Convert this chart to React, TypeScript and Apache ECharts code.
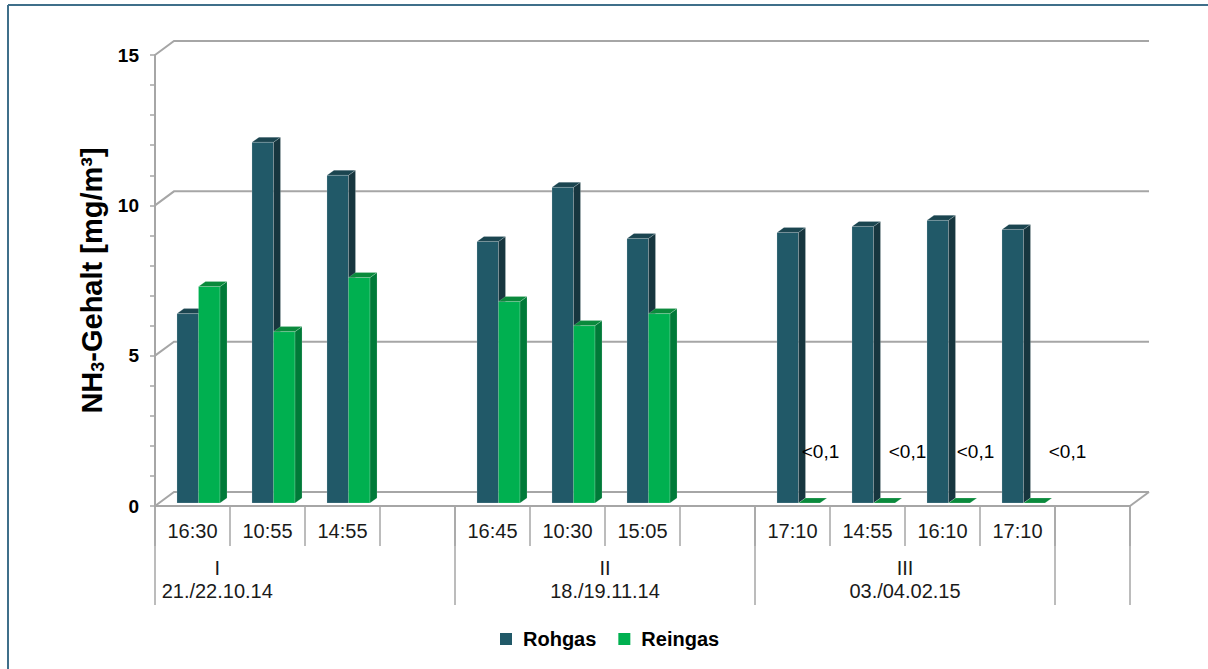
import React, { useEffect, useRef } from 'react';
import * as echarts from 'echarts';

// ---------- data ----------
const categories = ['16:30', '10:55', '14:55', '', '16:45', '10:30', '15:05', '', '17:10', '14:55', '16:10', '17:10', ''];
const rohgas = [6.3, 12.0, 10.9, null, 8.7, 10.5, 8.8, null, 9.0, 9.2, 9.4, 9.1, null];
const reingas = [7.2, 5.7, 7.5, null, 6.7, 5.9, 6.3, null, 0, 0, 0, 0, null];
const reingasLabels = ['', '', '', '', '', '', '', '', '<0,1', '<0,1', '<0,1', '<0,1', ''];
const groupNames = ['I', 'II', 'III'];
const groupDates = ['21./22.10.14', '18./19.11.14', '03./04.02.15'];
const groupBounds = [0, 4, 8, 12, 13];
const gridLevels = [0, 5, 10, 15];
const yMax = 15;

// ---------- layout / style ----------
const FONT = '"Liberation Sans", Arial, sans-serif';
const GRID_COLOR = '#a6a6a6';
const DEPTH = [19, -14];
const BAR_DEPTH = [7, -5];
const BAR_LIFT = 3;
const BAR_W = 0.287;
const GROUP_LABEL_SLOT = [0.83, 6, 10];
const LT_LABEL_DX: Record<number, number> = { 8: 28, 9: 40, 10: 33, 11: 50 };
const LT_LABEL_VALUE = 1.8;

const COLORS = {
  Rohgas: { front: '#215968', side: '#17363f', top: '#1b4550' },
  Reingas: { front: '#00b050', side: '#007a38', top: '#0a8a3c' },
};

function makeBarRender(offsetFrac: number, c: { front: string; side: string; top: string }, labels?: string[]) {
  return (params: any, api: any) => {
    const v = api.value(1);
    const i = api.value(0);
    if (v == null || isNaN(v)) return null;
    const bw = api.size([1, 0])[0];
    const c0 = api.coord([i, 0]);
    const c1 = api.coord([i, v]);
    const xL = c0[0] + offsetFrac * bw;
    const xR = xL + BAR_W * bw;
    const yB = c0[1] - BAR_LIFT;
    const yT = c1[1] - BAR_LIFT;
    const [dx, dy] = BAR_DEPTH;
    const children: any[] = [];
    if (yB - yT > 0.5) {
      children.push({
        type: 'rect',
        shape: { x: xL, y: yT, width: xR - xL, height: yB - yT },
        style: { fill: c.front, stroke: 'rgba(255,255,255,0.35)', lineWidth: 0.5 },
      });
      children.push({
        type: 'polygon',
        shape: { points: [[xR, yT], [xR + dx, yT + dy], [xR + dx, yB + dy], [xR, yB]] },
        style: { fill: c.side, stroke: 'rgba(255,255,255,0.35)', lineWidth: 0.5 },
      });
    }
    children.push({
      type: 'polygon',
      shape: { points: [[xL, yT], [xL + dx, yT + dy], [xR + dx, yT + dy], [xR, yT]] },
      style: { fill: c.top, stroke: 'rgba(255,255,255,0.35)', lineWidth: 0.5 },
    });
    if (labels && labels[i]) {
      const lp = api.coord([i, LT_LABEL_VALUE]);
      children.push({
        type: 'text',
        x: c0[0] + (LT_LABEL_DX[i] || 0),
        y: lp[1],
        style: {
          text: labels[i],
          fill: '#000',
          fontSize: 19,
          fontFamily: FONT,
          align: 'center',
          verticalAlign: 'middle',
        },
      });
    }
    return { type: 'group', children };
  };
}

function frameRender(params: any, api: any) {
  const cs = params.coordSys;
  const bw = api.size([1, 0])[0];
  const x0 = cs.x;
  const x1 = cs.x + cs.width;
  const [DX, DY] = DEPTH;
  const children: any[] = [];
  gridLevels.forEach((lv) => {
    const y = api.coord([0, lv])[1];
    children.push({
      type: 'polyline',
      shape: { points: [[x0, y], [x0 + DX, y + DY], [x1 + DX, y + DY]] },
      style: { stroke: GRID_COLOR, lineWidth: 2, fill: null },
    });
  });
  const yf = api.coord([0, 0])[1];
  children.push({
    type: 'line',
    shape: { x1: x1, y1: yf, x2: x1 + DX, y2: yf + DY },
    style: { stroke: GRID_COLOR, lineWidth: 2 },
  });
  groupBounds.forEach((k) => {
    const x = x0 + k * bw;
    children.push({
      type: 'line',
      shape: { x1: x, y1: yf, x2: x, y2: yf + 99 },
      style: { stroke: GRID_COLOR, lineWidth: 1.5 },
    });
  });
  groupNames.forEach((g, gi) => {
    children.push({
      type: 'text',
      x: x0 + GROUP_LABEL_SLOT[gi] * bw,
      y: yf + 73,
      style: {
        text: g + '\n' + groupDates[gi],
        fill: '#1a1a1a',
        fontSize: 20,
        lineHeight: 23,
        fontFamily: FONT,
        align: 'center',
        verticalAlign: 'middle',
      },
    });
  });
  return { type: 'group', children };
}

export default function App() {
  const ref = useRef<HTMLDivElement>(null);
  useEffect(() => {
    const chart = echarts.init(ref.current!, null, { renderer: 'svg' });
    const option: any = {
      animation: false,
      backgroundColor: '#ffffff',
      textStyle: { fontFamily: FONT },
      grid: { left: 155, top: 55, width: 975, height: 451 },
      xAxis: {
        type: 'category',
        data: categories,
        boundaryGap: true,
        axisLine: { show: true, lineStyle: { color: GRID_COLOR, width: 2 } },
        axisTick: { show: true, length: 40, interval: 0, lineStyle: { color: GRID_COLOR, width: 1.5 } },
        axisLabel: { interval: 0, margin: 15, fontSize: 20, color: '#1a1a1a', fontFamily: FONT },
        splitLine: { show: false },
      },
      yAxis: {
        type: 'value',
        min: 0,
        max: yMax,
        interval: 1,
        name: '{b|NH}{s|3}{b|-Gehalt [mg/m³]}',
        nameLocation: 'middle',
        nameRotate: 90,
        nameGap: 44,
        nameTextStyle: {
          rich: {
            b: { fontSize: 29, fontWeight: 'bold', color: '#000', fontFamily: FONT, verticalAlign: 'bottom', lineHeight: 32 },
            s: { fontSize: 18, fontWeight: 'bold', color: '#000', fontFamily: FONT, verticalAlign: 'bottom', lineHeight: 10 },
          },
        },
        axisLine: { show: true, lineStyle: { color: GRID_COLOR, width: 2 } },
        axisTick: { show: true, length: 5, lineStyle: { color: GRID_COLOR, width: 1.5 } },
        axisLabel: {
          margin: 16,
          fontSize: 19,
          fontWeight: 'bold',
          color: '#000',
          fontFamily: FONT,
          formatter: (v: number) => (v % 5 === 0 ? String(v) : ''),
        },
        splitLine: { show: false },
      },
      legend: {
        data: ['Rohgas', 'Reingas'],
        left: 495,
        top: 624,
        icon: 'rect',
        itemWidth: 12,
        itemHeight: 12,
        itemGap: 22,
        textStyle: { fontSize: 20, fontWeight: 'bold', color: '#000', fontFamily: FONT, padding: [0, 0, 0, 6] },
      },
      graphic: [
        { type: 'line', shape: { x1: 8, y1: 5, x2: 1208, y2: 5 }, style: { stroke: '#3f6f8a', lineWidth: 2 } },
        { type: 'line', shape: { x1: 8, y1: 5, x2: 8, y2: 669 }, style: { stroke: '#3f6f8a', lineWidth: 2 } },
      ],
      series: [
        {
          name: 'frame',
          type: 'custom',
          renderItem: frameRender,
          data: [[0, 0]],
          encode: { x: 0, y: 1 },
          silent: true,
          z: 1,
        },
        {
          name: 'Rohgas',
          type: 'custom',
          renderItem: makeBarRender(-0.207, COLORS.Rohgas),
          data: rohgas.map((v, i) => [i, v]),
          encode: { x: 0, y: 1 },
          itemStyle: { color: COLORS.Rohgas.front },
          z: 3,
        },
        {
          name: 'Reingas',
          type: 'custom',
          renderItem: makeBarRender(0.08, COLORS.Reingas, reingasLabels),
          data: reingas.map((v, i) => [i, v]),
          encode: { x: 0, y: 1 },
          itemStyle: { color: COLORS.Reingas.front },
          z: 4,
        },
      ],
    };
    chart.setOption(option);
    return () => chart.dispose();
  }, []);
  return (
    <div
      ref={ref}
      style={{ position: 'absolute', left: 0, top: 0, width: 1208, height: 669, background: '#fff' }}
    />
  );
}
